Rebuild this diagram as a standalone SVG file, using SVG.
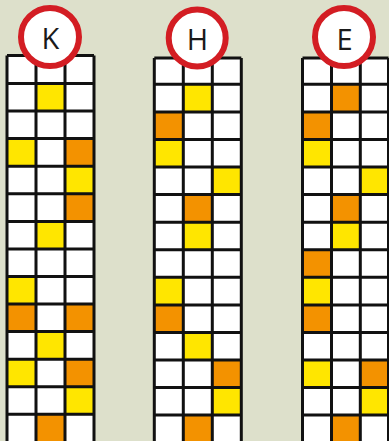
<svg xmlns="http://www.w3.org/2000/svg" width="389" height="441" viewBox="0 0 389 441">
<style>
.bg{fill:#ffffff}
.y{fill:#ffe600}
.o{fill:#f39200}
.ln{fill:none;stroke:#111111;stroke-width:3}
.ring{fill:#ffffff;stroke:#d31d23;stroke-width:6}
.lbl{font-family:"Open Sans","DejaVu Sans",sans-serif;font-size:29px;text-anchor:middle;fill:#1a1a1a}
</style>
<rect width="389" height="441" fill="#dde0cb"/>
<g id="grid-K">
<rect class="bg" x="7" y="55.5" width="87" height="390"/>
<rect class="y" x="36" y="83.5" width="29" height="27.6"/>
<rect class="y" x="7" y="138.6" width="29" height="27.6"/>
<rect class="o" x="65" y="138.6" width="29" height="27.6"/>
<rect class="y" x="65" y="166.2" width="29" height="27.6"/>
<rect class="o" x="65" y="193.8" width="29" height="27.6"/>
<rect class="y" x="36" y="221.4" width="29" height="27.6"/>
<rect class="y" x="7" y="276.5" width="29" height="27.6"/>
<rect class="o" x="7" y="304.1" width="29" height="27.6"/>
<rect class="o" x="65" y="304.1" width="29" height="27.6"/>
<rect class="y" x="36" y="331.6" width="29" height="27.6"/>
<rect class="y" x="7" y="359.2" width="29" height="27.6"/>
<rect class="o" x="65" y="359.2" width="29" height="27.6"/>
<rect class="y" x="65" y="386.8" width="29" height="27.6"/>
<rect class="o" x="36" y="414.3" width="29" height="27.6"/>
<path class="ln" d="M7 55.5V445M36 55.5V445M65 55.5V445M94 55.5V445M7 55.5H94M7 83.5H94M7 111.1H94M7 138.6H94M7 166.2H94M7 193.8H94M7 221.4H94M7 248.9H94M7 276.5H94M7 304.1H94M7 331.6H94M7 359.2H94M7 386.8H94M7 414.3H94"/>
</g>
<g id="grid-H">
<rect class="bg" x="154.3" y="58" width="87" height="390"/>
<rect class="y" x="183.3" y="84.3" width="29" height="27.6"/>
<rect class="o" x="154.3" y="111.9" width="29" height="27.6"/>
<rect class="y" x="154.3" y="139.4" width="29" height="27.6"/>
<rect class="y" x="212.3" y="167" width="29" height="27.6"/>
<rect class="o" x="183.3" y="194.6" width="29" height="27.6"/>
<rect class="y" x="183.3" y="222.2" width="29" height="27.6"/>
<rect class="y" x="154.3" y="277.3" width="29" height="27.6"/>
<rect class="o" x="154.3" y="304.9" width="29" height="27.6"/>
<rect class="y" x="183.3" y="332.4" width="29" height="27.6"/>
<rect class="o" x="212.3" y="360" width="29" height="27.6"/>
<rect class="y" x="212.3" y="387.6" width="29" height="27.6"/>
<rect class="o" x="183.3" y="415.1" width="29" height="27.6"/>
<path class="ln" d="M154.3 58V445M183.3 58V445M212.3 58V445M241.3 58V445M154.3 58H241.3M154.3 84.3H241.3M154.3 111.9H241.3M154.3 139.4H241.3M154.3 167H241.3M154.3 194.6H241.3M154.3 222.2H241.3M154.3 249.7H241.3M154.3 277.3H241.3M154.3 304.9H241.3M154.3 332.4H241.3M154.3 360H241.3M154.3 387.6H241.3M154.3 415.1H241.3"/>
</g>
<g id="grid-E">
<rect class="bg" x="302.5" y="58" width="86" height="390"/>
<rect class="o" x="331.5" y="84.3" width="29" height="27.6"/>
<rect class="o" x="302.5" y="111.9" width="29" height="27.6"/>
<rect class="y" x="302.5" y="139.4" width="29" height="27.6"/>
<rect class="y" x="360.3" y="167" width="28.2" height="27.6"/>
<rect class="o" x="331.5" y="194.6" width="29" height="27.6"/>
<rect class="y" x="331.5" y="222.2" width="29" height="27.6"/>
<rect class="o" x="302.5" y="249.7" width="29" height="27.6"/>
<rect class="y" x="302.5" y="277.3" width="29" height="27.6"/>
<rect class="o" x="302.5" y="304.9" width="29" height="27.6"/>
<rect class="y" x="302.5" y="360" width="29" height="27.6"/>
<rect class="o" x="360.3" y="360" width="28.2" height="27.6"/>
<rect class="y" x="360.3" y="387.6" width="28.2" height="27.6"/>
<rect class="o" x="331.5" y="415.1" width="29" height="27.6"/>
<path class="ln" d="M302.5 58V445M331.5 58V445M360.3 58V445M388.5 58V445M302.5 58H388.5M302.5 84.3H388.5M302.5 111.9H388.5M302.5 139.4H388.5M302.5 167H388.5M302.5 194.6H388.5M302.5 222.2H388.5M302.5 249.7H388.5M302.5 277.3H388.5M302.5 304.9H388.5M302.5 332.4H388.5M302.5 360H388.5M302.5 387.6H388.5M302.5 415.1H388.5"/>
</g>
<g id="label-K">
<circle class="ring" cx="50" cy="37" r="29"/>
<text class="lbl" x="50.5" y="49">K</text>
</g>
<g id="label-H">
<circle class="ring" cx="197.2" cy="38" r="28.5"/>
<text class="lbl" x="197.5" y="49.5">H</text>
</g>
<g id="label-E">
<circle class="ring" cx="344" cy="37" r="29"/>
<text class="lbl" x="344.5" y="49.5">E</text>
</g>
</svg>
